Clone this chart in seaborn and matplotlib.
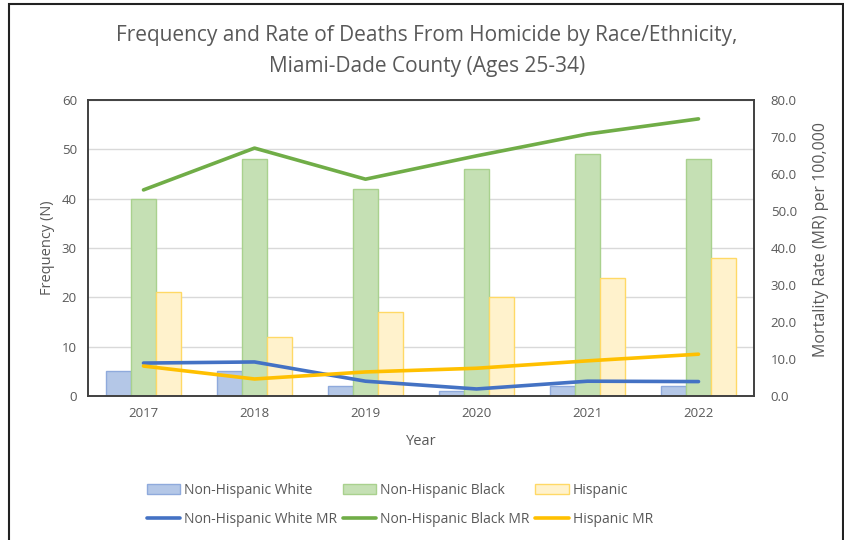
import pandas as pd
import numpy as np
import matplotlib.pyplot as plt
import seaborn as sns
from matplotlib.patches import Rectangle, Patch
from matplotlib.lines import Line2D

# data
years = ['2017', '2018', '2019', '2020', '2021', '2022']
groups = ['Non-Hispanic White', 'Non-Hispanic Black', 'Hispanic']

white_n = [5, 5, 2, 1, 2, 2]
black_n = [40, 48, 42, 46, 49, 48]
hisp_n = [21, 12, 17, 20, 24, 28]

white_mr = [8.9, 9.2, 4.0, 1.9, 4.0, 3.9]
black_mr = [55.7, 67.0, 58.6, 64.9, 70.8, 74.9]
hisp_mr = [8.1, 4.6, 6.5, 7.5, 9.5, 11.3]

bar_fill = ['#B4C7E7', '#C5E0B4', '#FFF2CC']
bar_edge = ['#8FAADC', '#A9D18E', '#FFD966']
line_col = ['#4472C4', '#70AD47', '#FFC000']
txt = '#595959'

counts = pd.DataFrame({
    'Year': years * 3,
    'Group': np.repeat(groups, len(years)),
    'N': white_n + black_n + hisp_n,
})
rates = pd.DataFrame({
    'pos': list(range(len(years))) * 3,
    'Group': np.repeat([g + ' MR' for g in groups], len(years)),
    'MR': white_mr + black_mr + hisp_mr,
})

sns.set_style('white')
plt.rcParams['font.family'] = ['Open Sans', 'DejaVu Sans']

fig = plt.figure(figsize=(8.45, 5.4), dpi=100)
ax = fig.add_axes([88 / 845, 1 - 396 / 540, 666 / 845, 296 / 540])

sns.barplot(data=counts, x='Year', y='N', hue='Group', order=years,
            palette=bar_fill, width=0.68, gap=0, saturation=1,
            linewidth=1, ax=ax, legend=False)
for i, cont in enumerate(ax.containers):
    for bar in cont:
        bar.set_edgecolor(bar_edge[i])

ax.set_ylim(0, 60)
ax.set_yticks(range(0, 61, 10))
ax.set_xlim(-0.5, len(years) - 0.5)
ax.yaxis.grid(True, color='#D9D9D9', lw=1)
ax.set_axisbelow(True)
ax.set_xlabel('Year', fontsize=10.5, color=txt, labelpad=10)
ax.set_ylabel('Frequency (N)', fontsize=10.5, color=txt, labelpad=5)
ax.tick_params(axis='both', labelsize=9.5, colors=txt, length=0, pad=8)

ax2 = ax.twinx()
sns.lineplot(data=rates, x='pos', y='MR', hue='Group', palette=line_col,
             linewidth=2.6, ax=ax2, legend=False)
ax2.set_ylim(0, 80)
ax2.set_yticks(range(0, 81, 10))
ax2.set_yticklabels([f'{v:.1f}' for v in range(0, 81, 10)])
ax2.set_ylabel('Mortality Rate (MR) per 100,000', fontsize=11.5, color=txt)
ax2.yaxis.set_label_coords(813 / 666 - 88 / 666, 0.53)
ax2.tick_params(axis='y', labelsize=9.5, colors=txt, length=0, pad=12)
ax2.set_xlim(-0.5, len(years) - 0.5)

for a in (ax, ax2):
    for s in a.spines.values():
        s.set_color('#404040')
        s.set_linewidth(1.2)

fig.text(427 / 845, 1 - 51 / 540,
         'Frequency and Rate of Deaths From Homicide by Race/Ethnicity,\nMiami-Dade County (Ages 25-34)',
         ha='center', va='center', fontsize=15, color=txt, linespacing=1.6)

handles = []
for i, g in enumerate(groups):
    handles.append(Patch(facecolor=bar_fill[i], edgecolor=bar_edge[i], label=g))
    handles.append(Line2D([], [], color=line_col[i], lw=2.6, label=g + ' MR'))
fig.legend(handles=handles, ncol=3, loc='center', bbox_to_anchor=(400 / 845, 1 - 505 / 540),
           frameon=False, fontsize=10, labelcolor=txt, handlelength=2.4, handletextpad=0.3,
           columnspacing=0.4, labelspacing=1.0)

fig.add_artist(Rectangle((9 / 845, -0.02), 834 / 845, 1.02 - 4 / 540,
                         transform=fig.transFigure, fill=False,
                         edgecolor='#222222', lw=1.5))

fig.savefig('out.png', dpi=100)
